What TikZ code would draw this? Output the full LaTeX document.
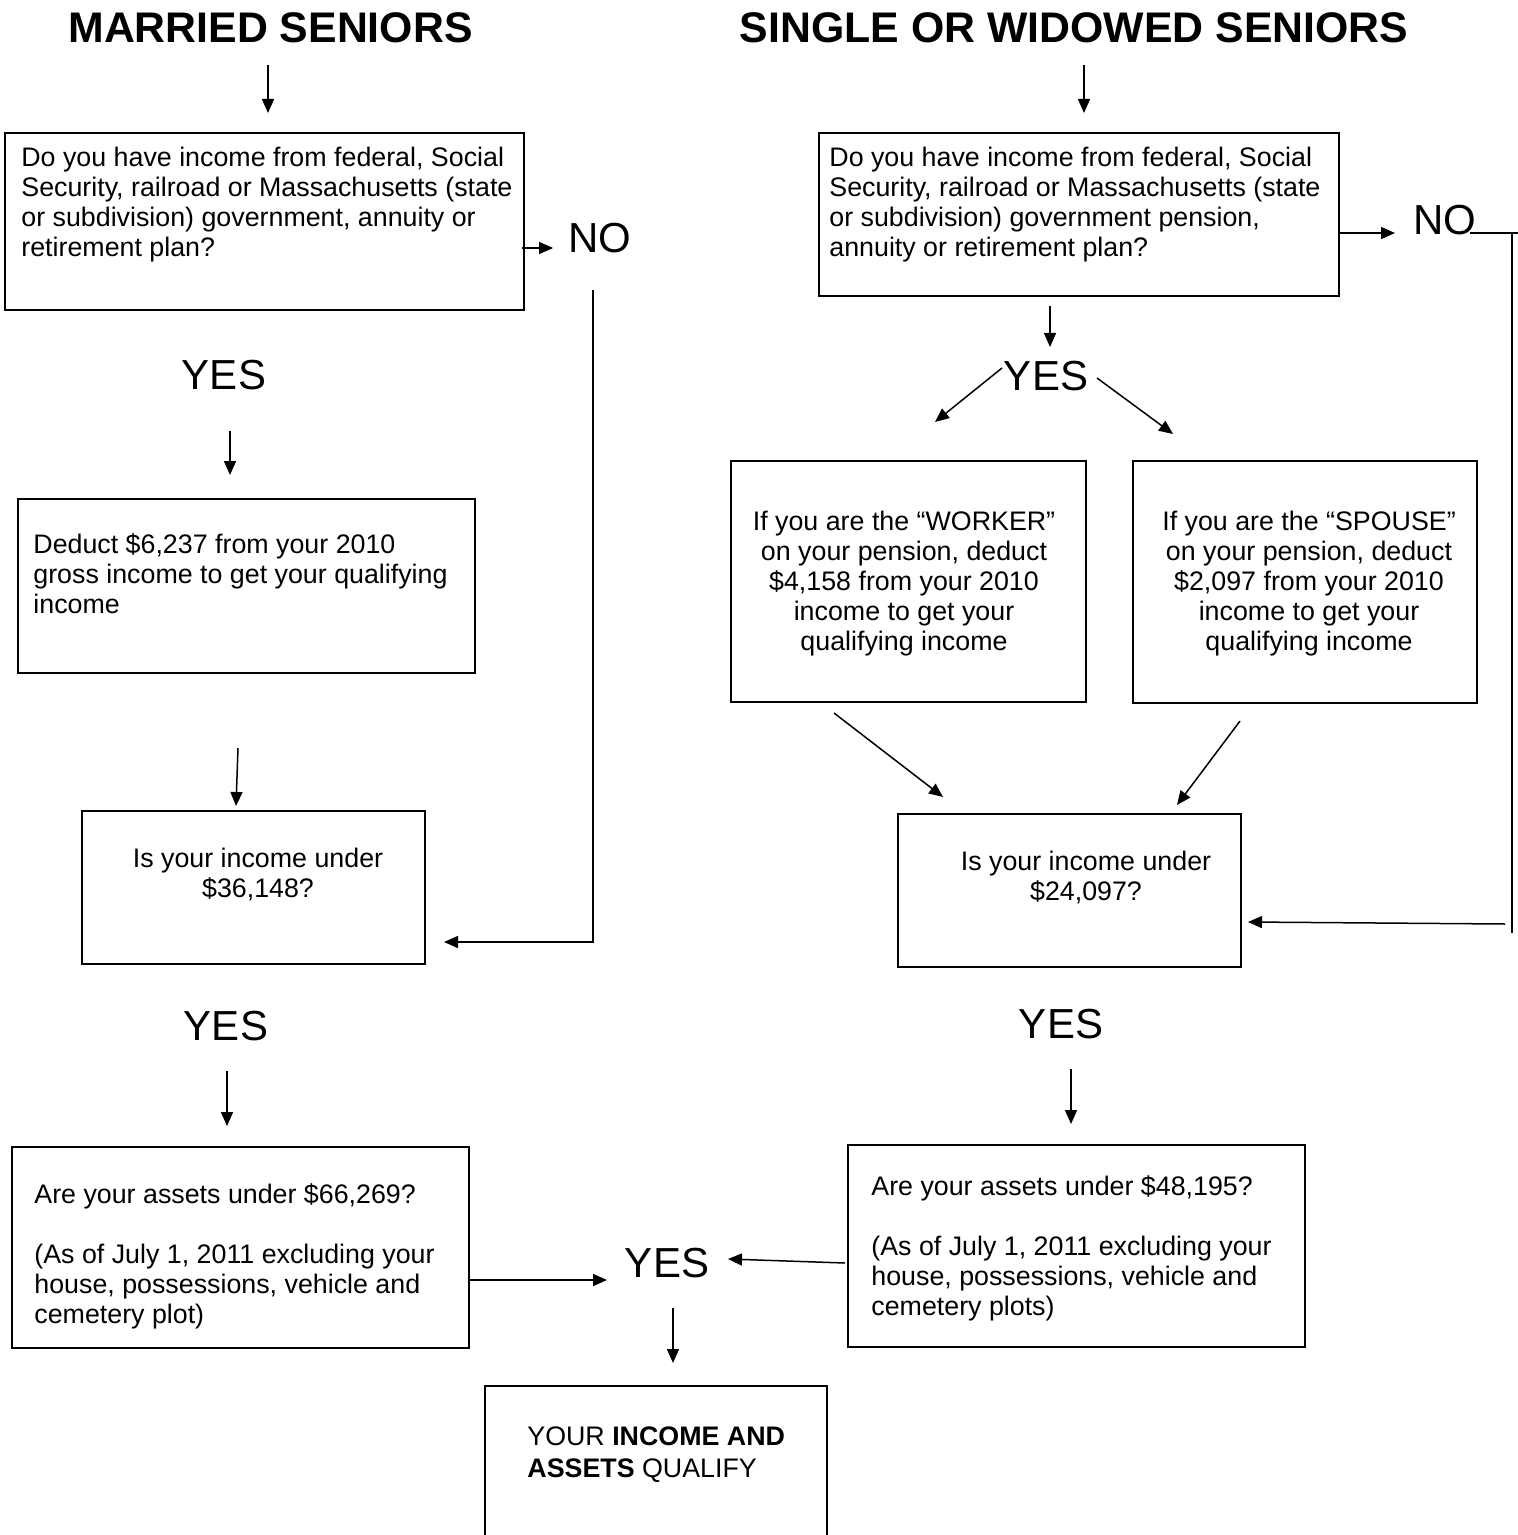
\documentclass[tikz,border=0pt]{standalone}
\usepackage{fontspec}
\setmainfont{Liberation Sans}
\usetikzlibrary{arrows.meta}
\newcommand{\linesL}[1]{\begin{tabular}[t]{@{}l@{}}#1\end{tabular}}
\newcommand{\linesC}[1]{\begin{tabular}[t]{@{}c@{}}#1\end{tabular}}
\begin{document}
\begin{tikzpicture}[x=0.5pt,y=-0.5pt,
  box/.style={draw=black,line width=1pt,inner sep=0pt,fill=none},
  txt/.style={inner sep=0pt,font=\fontsize{13.4}{15}\selectfont},
  title/.style={inner sep=0pt,anchor=base,font=\fontsize{21.4}{25}\selectfont\bfseries},
  big/.style={inner sep=0pt,anchor=base,font=\fontsize{21}{25}\selectfont},
  arr/.style={line width=0.75pt,-{Triangle[length=7pt,width=6pt]}},
  ln/.style={line width=0.75pt}]
\useasboundingbox (0,0) rectangle (1518,1535);
\clip (0,0) rectangle (1518,1535);
\fill[white] (0,0) rectangle (1518,1535);

% titles
\node[title] (t1) at (270.5,43) {MARRIED SENIORS};
\node[title] (t2) at (1074,43) {SINGLE OR WIDOWED SENIORS};

% boxes
\node[box,minimum width=259.5pt,minimum height=88.5pt] (A) at (264.5,221.5) {};
\node[box,minimum width=260pt,minimum height=81.5pt] (B) at (1079,214.5) {};
\node[box,minimum width=228.5pt,minimum height=87pt] (C) at (246.5,586) {};
\node[box,minimum width=177.5pt,minimum height=120.5pt] (D) at (908.5,581.5) {};
\node[box,minimum width=172pt,minimum height=121pt] (E) at (1305,582) {};
\node[box,minimum width=171.5pt,minimum height=76.5pt] (F) at (253.5,887.5) {};
\node[box,minimum width=171.5pt,minimum height=76.5pt] (G) at (1069.5,890.5) {};
\node[box,minimum width=228.5pt,minimum height=100.5pt] (H) at (240.5,1247.5) {};
\node[box,minimum width=228.5pt,minimum height=101pt] (I) at (1076.5,1246) {};
\node[box,minimum width=171pt,minimum height=87pt] (J) at (656,1473) {};

% box texts
\node[txt,anchor=base west] (tA) at (21,167) {\linesL{Do you have income from federal, Social\\Security, railroad or Massachusetts (state\\or subdivision) government, annuity or\\retirement plan?}};
\node[txt,anchor=base west] (tB) at (829,167) {\linesL{Do you have income from federal, Social\\Security, railroad or Massachusetts (state\\or subdivision) government pension,\\annuity or retirement plan?}};
\node[txt,anchor=base west] (tC) at (33,553) {\linesL{Deduct \$6,237 from your 2010\\gross income to get your qualifying\\income}};
\node[txt,anchor=base] (tD) at (904,530) {\linesC{If you are the “WORKER”\\on your pension, deduct\\\$4,158 from your 2010\\income to get your\\qualifying income}};
\node[txt,anchor=base] (tE) at (1309,530) {\linesC{If you are the “SPOUSE”\\on your pension, deduct\\\$2,097 from your 2010\\income to get your\\qualifying income}};
\node[txt,anchor=base] (tF) at (258,867) {\linesC{Is your income under\\\$36,148?}};
\node[txt,anchor=base] (tG) at (1086,870) {\linesC{Is your income under\\\$24,097?}};
\node[txt,anchor=base west] (tH) at (34,1203) {\linesL{Are your assets under \$66,269?\\ \\(As of July 1, 2011 excluding your\\house, possessions, vehicle and\\cemetery plot)}};
\node[txt,anchor=base west] (tI) at (871,1195) {\linesL{Are your assets under \$48,195?\\ \\(As of July 1, 2011 excluding your\\house, possessions, vehicle and\\cemetery plots)}};
\node[txt,anchor=base west] (tJ) at (527,1445) {\linesL{YOUR \textbf{INCOME AND}\\[1pt]\textbf{ASSETS} QUALIFY}};

% YES / NO labels
\node[big] (noL) at (600,253) {NO};
\node[big] (noR) at (1445,235) {NO};
\node[big] (yL1) at (224,389) {YES};
\node[big] (yR1) at (1046,390) {YES};
\node[big] (yL2) at (226,1040) {YES};
\node[big] (yR2) at (1061,1038) {YES};
\node[big] (yC) at (667,1277) {YES};

% connector end points
\coordinate (p1s) at (268,65);   \coordinate (p1e) at (268,113);
\coordinate (p2s) at (1084,65);  \coordinate (p2e) at (1084,113);
\coordinate (p3s) at (522,248);  \coordinate (p3e) at (553,248);
\coordinate (p4s) at (593,290);  \coordinate (p4m) at (593,942); \coordinate (p4e) at (444,942);
\coordinate (p5s) at (230,431);  \coordinate (p5e) at (230,475);
\coordinate (p6s) at (1050,306); \coordinate (p6e) at (1050,347);
\coordinate (p7s) at (1002,368); \coordinate (p7e) at (935,422);
\coordinate (p8s) at (1097,378); \coordinate (p8e) at (1173,434);
\coordinate (p9s) at (1338,233); \coordinate (p9e) at (1395,233);
\coordinate (q1s) at (1470,233); \coordinate (q1e) at (1518,233);
\coordinate (q2s) at (1512,233); \coordinate (q2e) at (1512,933);
\coordinate (q3s) at (1505,924); \coordinate (q3e) at (1248,922);
\coordinate (q4s) at (834,713);  \coordinate (q4e) at (943,797);
\coordinate (q5s) at (1240,721); \coordinate (q5e) at (1177,805);
\coordinate (q6s) at (238,748);  \coordinate (q6e) at (236,806);
\coordinate (q7s) at (227,1071); \coordinate (q7e) at (227,1126);
\coordinate (q8s) at (1071,1069);\coordinate (q8e) at (1071,1124);
\coordinate (q9s) at (470,1280); \coordinate (q9e) at (607,1280);
\coordinate (r1s) at (845,1263); \coordinate (r1e) at (728,1259);
\coordinate (r2s) at (673,1308); \coordinate (r2e) at (673,1363);

% connectors
\draw[arr] (p1s) -- (p1e);
\draw[arr] (p2s) -- (p2e);
\draw[arr] (p3s) -- (p3e);
\draw[arr] (p4s) -- (p4m) -- (p4e);
\draw[arr] (p5s) -- (p5e);
\draw[arr] (p6s) -- (p6e);
\draw[arr] (p7s) -- (p7e);
\draw[arr] (p8s) -- (p8e);
\draw[arr] (p9s) -- (p9e);
\draw[ln] (q1s) -- (q1e);
\draw[ln] (q2s) -- (q2e);
\draw[arr] (q3s) -- (q3e);
\draw[arr] (q4s) -- (q4e);
\draw[arr] (q5s) -- (q5e);
\draw[arr] (q6s) -- (q6e);
\draw[arr] (q7s) -- (q7e);
\draw[arr] (q8s) -- (q8e);
\draw[arr] (q9s) -- (q9e);
\draw[arr] (r1s) -- (r1e);
\draw[arr] (r2s) -- (r2e);
\end{tikzpicture}
\end{document}
